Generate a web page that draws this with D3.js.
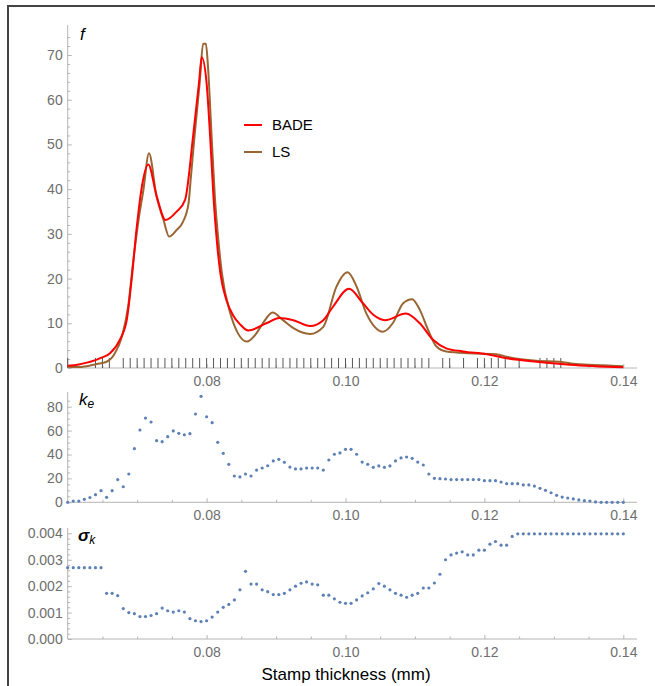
<!DOCTYPE html>
<html>
<head>
<meta charset="utf-8">
<script src="https://cdn.jsdelivr.net/npm/d3@7"></script>
<style>
  body { margin: 0; background: #fff; }
  text { font-family: "Liberation Sans", Arial, Helvetica, sans-serif; }
</style>
</head>
<body>
<div id="chart"></div>
<script>
var width = 655;
var height = 686;

// density estimates, f (knots)
var badeX = [0.060, 0.0616, 0.0647, 0.0661, 0.0675, 0.0685, 0.0692, 0.0699, 0.0706, 0.0716, 0.0728, 0.0741, 0.0757, 0.0769, 0.0781, 0.0789, 0.0793, 0.0800, 0.0805, 0.0810, 0.0815, 0.0820, 0.0829, 0.0838, 0.0848, 0.0860, 0.0886, 0.0905, 0.0925, 0.0949, 0.0968, 0.0982, 0.1005, 0.1025, 0.1040, 0.1057, 0.1087, 0.1107, 0.1126, 0.1145, 0.1169, 0.1203, 0.1232, 0.1275, 0.1323, 0.1400];
var badeF = [0.5, 0.8, 2.2, 3.3, 6.3, 10.7, 19.7, 30.9, 39.8, 45.5, 38.5, 33.1, 35, 37.6, 52.5, 63.7, 69.5, 63.7, 52, 38, 28, 21, 15, 11.8, 9.8, 8.4, 10, 11.2, 10.7, 9.4, 10.7, 13.7, 17.7, 14.5, 11.9, 10.7, 12.2, 10, 6.3, 4.4, 3.7, 3.1, 2.2, 1.4, 0.75, 0.15];

var lsX = [0.060, 0.0616, 0.0642, 0.0656, 0.0668, 0.0678, 0.0687, 0.0694, 0.0702, 0.0709, 0.0717, 0.0728, 0.0738, 0.0746, 0.0757, 0.0766, 0.0774, 0.0777, 0.0783, 0.0790, 0.0795, 0.0799, 0.0802, 0.0807, 0.0812, 0.0817, 0.0822, 0.0834, 0.0845, 0.0858, 0.0870, 0.0881, 0.0895, 0.0910, 0.0925, 0.0949, 0.0968, 0.0987, 0.1003, 0.1016, 0.1030, 0.1042, 0.1054, 0.1068, 0.1083, 0.1096, 0.1107, 0.1119, 0.1131, 0.1145, 0.1179, 0.1217, 0.1232, 0.1275, 0.1308, 0.1332, 0.1371, 0.1400];
var lsF = [0.3, 0.2, 0.9, 1.4, 3.3, 7, 13.7, 23.4, 33.1, 39.8, 48, 38.3, 33.1, 29.4, 30.9, 32.7, 36.8, 42, 52.5, 63.7, 72.5, 72.5, 67.4, 52.5, 38, 28.5, 21.2, 12.3, 7.8, 5.9, 7.4, 10, 12.4, 10.7, 8.9, 7.6, 9.2, 18.2, 21.4, 18.2, 12.2, 9.2, 8.1, 10, 14.5, 15.4, 13, 8.5, 4.8, 3.7, 3.3, 3.1, 2.5, 1.6, 1.4, 0.9, 0.6, 0.4];

// measured thicknesses shown as a rug
var rugValues = [0.060, 0.064, 0.065, 0.066,
  0.068, 0.069, 0.070, 0.071, 0.072, 0.073, 0.074, 0.075, 0.076, 0.077, 0.078, 0.079,
  0.080, 0.081, 0.082, 0.083, 0.084, 0.085, 0.086, 0.087, 0.088, 0.089,
  0.090, 0.091, 0.092, 0.093, 0.094, 0.095, 0.096, 0.097, 0.098, 0.099,
  0.100, 0.101, 0.102, 0.103, 0.104, 0.105, 0.106, 0.107, 0.108, 0.109,
  0.110, 0.111, 0.112, 0.114, 0.115, 0.117, 0.119, 0.120, 0.121, 0.122, 0.123,
  0.125, 0.128, 0.129, 0.130, 0.131];

// evaluation grid for k_e and sigma_k (step 0.0008 mm)
var gridX = d3.range(0, 101).map(i => +(0.060 + i * 0.0008).toFixed(4));

var keValues = [0, 1, 1, 2.5, 4, 6.4, 9.7, 4.2, 9.7, 19, 13, 23.7, 44.9, 60.5, 70.5, 67.2, 51.6, 50.7, 54.9, 59.7,
  57.7, 56.5, 57.4, 73.9, 88.7, 71.6, 66.6, 50.2, 41, 31.8, 22, 21.2, 23.7, 22, 27, 28.7, 30.6, 34.6, 36, 33.5,
  29.5, 27.9, 27.9, 28.7, 28.7, 28.7, 27, 35.4, 40.2, 41.3, 44.3, 44.3, 40.2, 33.7, 31.8, 29.3, 30.4, 29.3, 30.4, 34.6,
  37.1, 37.9, 36.8, 33.7, 31.2, 23.7, 20.1, 19.8, 19.5, 19, 19, 19, 19, 19, 19, 18.1, 18.1, 18.1, 17, 15.6,
  15.6, 15.6, 14.5, 14.5, 13.6, 11.7, 10, 8, 5.8, 4.4, 3.6, 2.8, 2, 1.4, 1.1, 0.3, 0, 0, 0, 0, 0];

var sigmaValues = [0.0027, 0.0027, 0.0027, 0.0027, 0.0027, 0.0027, 0.0027, 0.00173, 0.00173, 0.00164,
  0.00115, 0.0010, 0.00096, 0.00085, 0.00085, 0.00089, 0.00096, 0.00117, 0.00107, 0.00102,
  0.00107, 0.00102, 0.00077, 0.00069, 0.00066, 0.00069, 0.00083, 0.00102, 0.0012, 0.00131,
  0.00148, 0.00186, 0.00256, 0.00208, 0.00208, 0.00186, 0.00179, 0.00168, 0.00168, 0.00173,
  0.00186, 0.0020, 0.00211, 0.00216, 0.00208, 0.00205, 0.00166, 0.00166, 0.00152, 0.00139,
  0.00135, 0.00135, 0.00148, 0.00163, 0.00175, 0.0019, 0.0021, 0.0020, 0.00186, 0.00173,
  0.00166, 0.00158, 0.00166, 0.00173, 0.00193, 0.00193, 0.00212, 0.00245, 0.0030, 0.00318,
  0.00325, 0.0033, 0.00318, 0.00318, 0.00336, 0.00336, 0.00359, 0.00369, 0.00355, 0.00355,
  0.00388, 0.00398, 0.00398, 0.00398, 0.00398, 0.00398, 0.00398, 0.00398, 0.00398, 0.00398,
  0.00398, 0.00398, 0.00398, 0.00398, 0.00398, 0.00398, 0.00398, 0.00398, 0.00398, 0.00398,
  0.00398];

var xTicks = [0.08, 0.10, 0.12, 0.14];
var xMinor = [0.065, 0.07, 0.075, 0.085, 0.09, 0.095, 0.105, 0.11, 0.115, 0.125, 0.13, 0.135];
var fTicks = [0, 10, 20, 30, 40, 50, 60, 70];
var keTicks = [0, 20, 40, 60, 80];
var sigmaTicks = [0, 0.001, 0.002, 0.003, 0.004];

var axisColor = "#b4b4b4";
var labelColor = "#6e6e6e";
var dotColor = "#5e81b5";

var x = d3.scaleLinear()
    .domain([0.06, 0.14])
    .range([67.7, 623.3]);
var xEnd = 637;

var svg = d3.select("#chart")
    .append("svg")
    .attr("width", width)
    .attr("height", height);

// frame
svg.append("path")
    .attr("d", "M8,686 L8,6 L655,6")
    .attr("fill", "none")
    .attr("stroke", "#444")
    .attr("stroke-width", 2);

function drawAxes(y, majors, minors, fmt, top) {
    var g = svg.append("g");
    var y0 = y(0);

    // axis lines
    g.append("line")
        .attr("x1", x(0.06)).attr("x2", xEnd)
        .attr("y1", y0).attr("y2", y0)
        .attr("stroke", axisColor);
    g.append("line")
        .attr("x1", x(0.06)).attr("x2", x(0.06))
        .attr("y1", y0).attr("y2", top)
        .attr("stroke", axisColor);

    // x ticks point up, into the plot
    g.append("g")
        .attr("transform", `translate(0,${y0})`)
        .call(d3.axisBottom(x).tickValues(xTicks).tickFormat(d3.format(".2f"))
            .tickSizeInner(-4).tickSizeOuter(0).tickPadding(8))
        .call(a => a.select(".domain").remove())
        .call(a => a.selectAll("line").attr("stroke", axisColor))
        .call(a => a.selectAll("text").attr("fill", labelColor).style("font-size", "14px"));
    g.append("g")
        .attr("transform", `translate(0,${y0})`)
        .call(d3.axisBottom(x).tickValues(xMinor).tickFormat("")
            .tickSizeInner(-2.5).tickSizeOuter(0))
        .call(a => a.select(".domain").remove())
        .call(a => a.selectAll("line").attr("stroke", axisColor));

    // y ticks point right
    g.append("g")
        .attr("transform", `translate(${x(0.06)},0)`)
        .call(d3.axisLeft(y).tickValues(majors).tickFormat(fmt)
            .tickSizeInner(-4).tickSizeOuter(0).tickPadding(5))
        .call(a => a.select(".domain").remove())
        .call(a => a.selectAll("line").attr("stroke", axisColor))
        .call(a => a.selectAll("text").attr("fill", labelColor).style("font-size", "14px"));
    g.append("g")
        .attr("transform", `translate(${x(0.06)},0)`)
        .call(d3.axisLeft(y).tickValues(minors).tickFormat("")
            .tickSizeInner(-2.5).tickSizeOuter(0))
        .call(a => a.select(".domain").remove())
        .call(a => a.selectAll("line").attr("stroke", axisColor));
}

// ---------- top panel: f ----------
var yF = d3.scaleLinear().domain([0, 70]).range([368, 55]);
drawAxes(yF, fTicks, d3.range(2, 76, 2).filter(v => v % 10 !== 0), d3.format("d"), 25);

svg.append("g")
    .selectAll("line")
    .data(rugValues)
    .enter()
    .append("line")
    .attr("x1", d => x(d)).attr("x2", d => x(d))
    .attr("y1", yF(0) - 10).attr("y2", yF(0))
    .attr("stroke", "#555")
    .attr("stroke-width", 1);

var fLine = d3.line()
    .x(d => x(d[0]))
    .y(d => yF(d[1]))
    .curve(d3.curveMonotoneX);

svg.append("path")
    .datum(lsX.map((v, i) => [v, lsF[i]]))
    .attr("d", fLine)
    .attr("fill", "none")
    .attr("stroke", "#996633")
    .attr("stroke-width", 2);

svg.append("path")
    .datum(badeX.map((v, i) => [v, badeF[i]]))
    .attr("d", fLine)
    .attr("fill", "none")
    .attr("stroke", "#ff0000")
    .attr("stroke-width", 2);

svg.append("text")
    .attr("x", 80).attr("y", 40)
    .style("font-size", "17px")
    .style("font-style", "italic")
    .text("f");

// legend
var legend = svg.append("g")
    .attr("transform", "translate(244,125)");
[["BADE", "#ff0000"], ["LS", "#996633"]].forEach(function (d, i) {
    legend.append("line")
        .attr("x1", 0).attr("x2", 18)
        .attr("y1", i * 27).attr("y2", i * 27)
        .attr("stroke", d[1])
        .attr("stroke-width", 2);
    legend.append("text")
        .attr("x", 28).attr("y", i * 27)
        .attr("dy", "0.36em")
        .style("font-size", "15px")
        .text(d[0]);
});

// ---------- middle panel: k_e ----------
var yK = d3.scaleLinear().domain([0, 80]).range([502.3, 406.7]);
drawAxes(yK, keTicks, d3.range(5, 90, 5).filter(v => v % 20 !== 0), d3.format("d"), 392);

svg.append("g")
    .attr("fill", dotColor)
    .selectAll("circle")
    .data(keValues)
    .enter()
    .append("circle")
    .attr("cx", (d, i) => x(gridX[i]))
    .attr("cy", d => yK(d))
    .attr("r", 1.6);

var keLabel = svg.append("text")
    .attr("x", 79).attr("y", 405)
    .style("font-size", "17px")
    .style("font-style", "italic");
keLabel.append("tspan").text("k");
keLabel.append("tspan").attr("dy", 3).style("font-size", "12px").text("e");

// ---------- bottom panel: sigma_k ----------
var yS = d3.scaleLinear().domain([0, 0.004]).range([639, 533.3]);
drawAxes(yS, sigmaTicks, d3.range(1, 21).filter(v => v % 5 !== 0).map(v => v * 0.0002), d3.format(".3f"), 528);

svg.append("g")
    .attr("fill", dotColor)
    .selectAll("circle")
    .data(sigmaValues)
    .enter()
    .append("circle")
    .attr("cx", (d, i) => x(gridX[i]))
    .attr("cy", d => yS(d))
    .attr("r", 1.6);

var sLabel = svg.append("text")
    .attr("x", 78).attr("y", 541)
    .style("font-size", "17px")
    .style("font-style", "italic")
    .style("font-weight", "bold");
sLabel.append("tspan").text("σ");
sLabel.append("tspan").attr("dy", 3).style("font-size", "12px").style("font-weight", "normal").text("k");

svg.append("text")
    .attr("x", 346).attr("y", 680)
    .attr("text-anchor", "middle")
    .style("font-size", "17px")
    .text("Stamp thickness (mm)");
</script>
</body>
</html>
